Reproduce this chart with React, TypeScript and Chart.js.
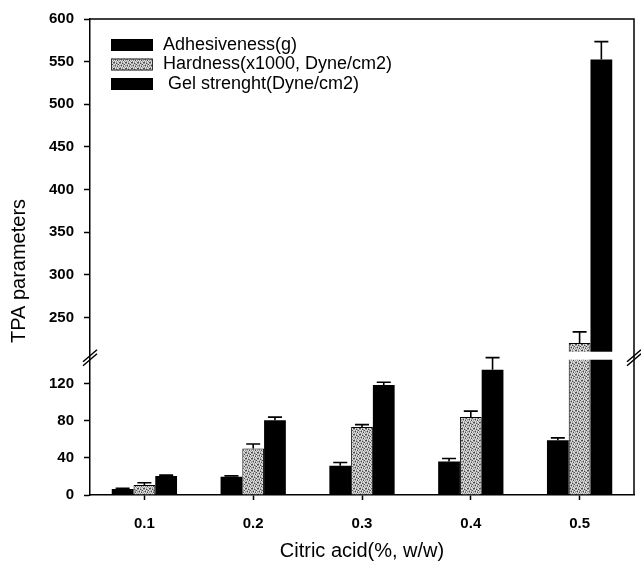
import React, { useEffect, useRef } from "react";
import { Chart, registerables } from "chart.js";

Chart.register(...registerables);

// ---------- data ----------
const categories = ["0.1", "0.2", "0.3", "0.4", "0.5"];
const seriesLabels = ["Adhesiveness(g)", "Hardness(x1000, Dyne/cm2)", " Gel strenght(Dyne/cm2)"];
const adhesiveness = [6.5, 19.6, 31.4, 36.1, 59];
const adhesivenessErr = [0.6, 1, 3.6, 3.2, 2.5];
const hardness = [10.7, 50, 73.2, 83.9, 220];
const hardnessErr = [2.5, 5, 2.6, 6.4, 13];
const gelStrength = [20.4, 80.4, 118.6, 135, 552.5];
const gelStrengthErr = [1, 3.5, 2.8, 13, 21];
const lowerTicks = [0, 40, 80, 120];
const upperTicks = [250, 300, 350, 400, 450, 500, 550, 600];
const lowerRange = [0, 150];
const upperRange = [205, 600];
const xTitle = "Citric acid(%, w/w)";
const yTitle = "TPA parameters";

const seriesValues = [adhesiveness, hardness, gelStrength];
const seriesErrs = [adhesivenessErr, hardnessErr, gelStrengthErr];

const FONT = "'Liberation Sans', Arial, Helvetica, sans-serif";

const PAT = ["cbcacb", "bcbcbc", "acbcca", "bcabcb", "cbcbac", "bacbcb"];
function makePattern(ctx: CanvasRenderingContext2D) {
  const c = document.createElement("canvas");
  c.width = 6;
  c.height = 6;
  const g = c.getContext("2d")!;
  const map: Record<string, string> = { a: "#4a4a4a", b: "#9c9c9c", c: "#dcdcdc" };
  PAT.forEach((row, y) =>
    row.split("").forEach((ch, x) => {
      g.fillStyle = map[ch];
      g.fillRect(x, y, 1, 1);
    })
  );
  return ctx.createPattern(c, "repeat")!;
}

export default function App() {
  const ref = useRef<HTMLCanvasElement>(null);
  useEffect(() => {
    document.body.style.margin = "0";
    document.body.style.overflow = "hidden";
    const canvas = ref.current!;
    const ctx = canvas.getContext("2d")!;
    const pattern = makePattern(ctx);
    const fills: any[] = ["#000000", pattern, "#000000"];

    const lowerSets = seriesValues.map((vals, s) => ({
      label: seriesLabels[s],
      data: vals.map((v) => Math.min(v, lowerRange[1])),
      backgroundColor: fills[s],
      borderColor: "#000",
      borderWidth: s === 1 ? 1 : 0,
      yAxisID: "yLow",
      stack: "s" + s,
    }));
    const upperSets = seriesValues.map((vals, s) => ({
      label: seriesLabels[s] + " (upper)",
      data: vals.map((v) => (v > upperRange[0] ? [upperRange[0], v] : null)),
      backgroundColor: fills[s],
      borderColor: "#000",
      borderWidth: s === 1 ? 1 : 0,
      yAxisID: "yHigh",
      stack: "s" + s,
    }));

    const decor = {
      id: "decor",
      afterDatasetsDraw(chart: any) {
        const { ctx: c, chartArea: a, scales } = chart;
        const yLow = scales.yLow;
        const yHigh = scales.yHigh;
        const bY = yLow.top;
        c.save();
        // white break band through the bars
        c.fillStyle = "#ffffff";
        c.fillRect(a.left + 2, bY - 4, a.right - a.left - 4, 8);
        // error bars
        c.strokeStyle = "#000";
        c.lineWidth = 1.6;
        seriesValues.forEach((vals, s) => {
          const errs = seriesErrs[s];
          vals.forEach((v, i) => {
            const high = v > upperRange[0];
            const meta = chart.getDatasetMeta(high ? s + 3 : s);
            const el = meta.data[i];
            if (!el) return;
            const sc = high ? yHigh : yLow;
            const x = el.x;
            const y0 = sc.getPixelForValue(v);
            const y1 = sc.getPixelForValue(v + errs[i]);
            c.beginPath();
            c.moveTo(x, y0);
            c.lineTo(x, y1);
            c.moveTo(x - 7, y1);
            c.lineTo(x + 7, y1);
            c.stroke();
          });
        });
        // frame top/right
        c.lineWidth = 1.5;
        c.beginPath();
        c.moveTo(a.left, a.top);
        c.lineTo(a.right, a.top);
        c.lineTo(a.right, a.bottom);
        c.stroke();
        // break slashes
        const slash = (cx: number) => {
          c.lineWidth = 1.5;
          c.beginPath();
          c.moveTo(cx - 7, bY + 6);
          c.lineTo(cx + 7, bY - 6);
          c.moveTo(cx - 7, bY + 10);
          c.lineTo(cx + 7, bY - 2);
          c.stroke();
        };
        slash(a.left);
        slash(a.right);
        // y title
        c.save();
        c.fillStyle = "#000";
        c.translate(19, (a.top + a.bottom) / 2 + 14);
        c.rotate(-Math.PI / 2);
        c.font = `20px ${FONT}`;
        c.textAlign = "center";
        c.textBaseline = "middle";
        c.fillText(yTitle, 0, 0);
        c.restore();
        // legend
        c.font = `18px ${FONT}`;
        c.textAlign = "left";
        c.textBaseline = "middle";
        seriesLabels.forEach((lab, s) => {
          const cy = a.top + 26 + s * 19.5;
          c.fillStyle = fills[s];
          c.fillRect(a.left + 21, cy - 6, 42, 12);
          if (s === 1) {
            c.strokeStyle = "#333";
            c.lineWidth = 1;
            c.strokeRect(a.left + 21.5, cy - 5.5, 41, 11);
          }
          c.fillStyle = "#000";
          c.fillText(lab, a.left + 73, cy);
        });
        c.restore();
      },
    };

    const tickFont = { family: FONT, size: 15, weight: "bold" as const };

    const chart = new Chart(ctx, {
      type: "bar",
      data: { labels: categories, datasets: [...lowerSets, ...upperSets] as any },
      options: {
        responsive: false,
        animation: false,
        events: [],
        layout: { padding: { left: 0, right: 7, top: 16, bottom: 0 } },
        datasets: { bar: { categoryPercentage: 0.6, barPercentage: 1 } } as any,
        plugins: { legend: { display: false }, tooltip: { enabled: false } },
        scales: {
          x: {
            grid: { display: true, drawOnChartArea: false, offset: false, tickLength: 5, tickColor: "#000", tickWidth: 1.5 },
            border: { color: "#000", width: 1.5 },
            ticks: { color: "#000", font: tickFont, padding: 15 },
            title: { display: true, text: xTitle, color: "#000", font: { family: FONT, size: 20 }, padding: { top: 4, bottom: 3 } },
            afterFit: (s: any) => { s.height = 71; },
          },
          yLow: {
            type: "linear",
            position: "left",
            stack: "y",
            stackWeight: 140,
            stacked: false,
            min: lowerRange[0],
            max: lowerRange[1],
            afterBuildTicks: (s: any) => { s.ticks = lowerTicks.map((v) => ({ value: v })); },
            grid: { display: true, drawOnChartArea: false, tickLength: 6, tickColor: "#000", tickWidth: 1.5 },
            border: { color: "#000", width: 1.5 },
            ticks: { color: "#000", font: tickFont, padding: 10 },
            afterFit: (s: any) => { s.width = 90; },
          },
          yHigh: {
            type: "linear",
            position: "left",
            stack: "y",
            stackWeight: 338.5,
            stacked: false,
            min: upperRange[0],
            max: upperRange[1],
            afterBuildTicks: (s: any) => { s.ticks = upperTicks.map((v) => ({ value: v })); },
            grid: { display: true, drawOnChartArea: false, tickLength: 6, tickColor: "#000", tickWidth: 1.5 },
            border: { color: "#000", width: 1.5 },
            ticks: { color: "#000", font: tickFont, padding: 10 },
            afterFit: (s: any) => { s.width = 90; },
          },
        } as any,
      },
      plugins: [decor],
    });
    return () => chart.destroy();
  }, []);
  return <canvas ref={ref} width={641} height={566} style={{ display: "block" }} />;
}
